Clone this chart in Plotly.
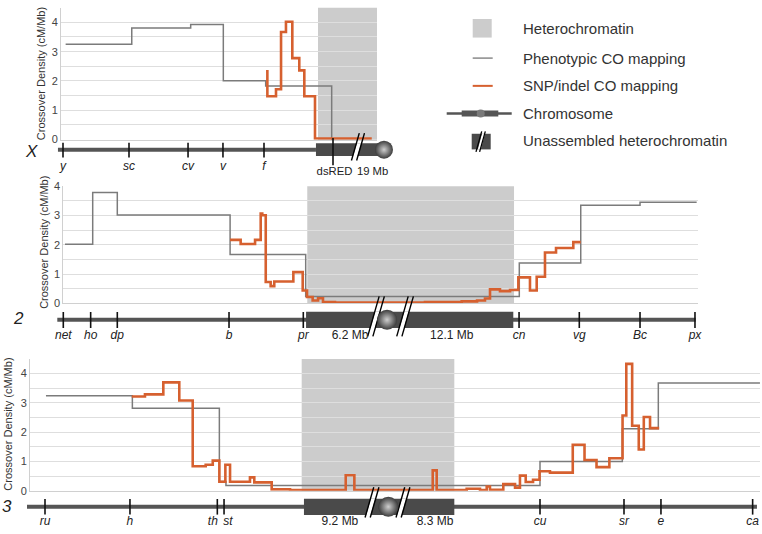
import plotly.graph_objects as go

W, H = 762, 534
PX_PER_MB = 12.0
FONT = "Liberation Sans, Arial, sans-serif"
ORANGE = "#d6602f"
GREY_LINE = "#7b7b7b"
HET = "#cccccc"
GRID = "#dedede"
DARK = "#4a4a4a"

# ---------------- data (positions in Mb, densities in cM/Mb) ----------------
# Chromosome X
x_genes = ["y", "sc", "cv", "v", "f"]
x_gene_mb = [0.0, 5.5, 10.42, 13.33, 16.75]
x_marker = ["dsRED"]
x_marker_mb = [22.5]
x_pheno_edges = [0.22, 5.73, 10.64, 13.36, 16.89, 22.39, 22.6]
x_pheno_vals = [3.25, 3.81, 3.93, 2.01, 1.83, 0.0]
x_snp_edges = [16.92, 17.03, 17.75, 18.17, 18.58, 19.11, 19.69, 20.11, 21.0, 25.73]
x_snp_vals = [2.33, 1.48, 1.72, 3.67, 4.02, 2.78, 2.36, 1.48, 0.04]
x_het = [21.25, 26.17]
x_unassembled = [21.08, 26.58]
x_span = [-0.42, 21.08]
x_centromere = 26.75
x_breaks = [24.58]
x_size_labels = ["19 Mb"]
x_size_mb = [25.8]

# Chromosome 2
c2_genes = ["net", "ho", "dp", "b", "pr", "cn", "vg", "Bc", "px"]
c2_gene_mb = [0.0, 2.28, 4.5, 13.81, 20.0, 37.98, 43.0, 48.06, 52.64]
c2_pheno_edges = [0.14, 2.45, 4.5, 13.9, 20.2, 38.0, 43.12, 48.06, 52.78]
c2_pheno_vals = [2.02, 3.78, 3.02, 1.67, 0.24, 1.38, 3.35, 3.45]
c2_snp_edges = [13.89, 14.78, 15.98, 16.45, 16.58, 16.87, 17.28, 17.58, 19.17, 19.95,
                 20.31, 20.78, 21.23, 21.64, 22.64, 30.14, 33.2, 34.48, 35.14, 35.56,
                 36.39, 37.23, 37.92, 38.89, 39.45, 40.14, 41.06, 42.5, 43.12]
c2_snp_vals = [2.17, 2.03, 2.17, 3.07, 3.01, 0.73, 0.59, 0.75, 1.07, 0.44,
               0.22, 0.10, 0.18, 0.05, 0.03, 0.05, 0.07, 0.10, 0.17, 0.48,
               0.42, 0.46, 0.89, 0.44, 0.91, 1.74, 1.89, 2.09]
c2_het = [20.33, 37.56]
c2_unassembled = [20.23, 37.5]
c2_span = [-0.5, 52.7]
c2_centromere = 26.98
c2_breaks = [26.06, 28.48]
c2_size_labels = ["6.2 Mb", "12.1 Mb"]
c2_size_mb = [23.89, 32.37]

# Chromosome 3
c3_genes = ["ru", "h", "th", "st", "cu", "sr", "e", "ca"]
c3_gene_mb = [0.0, 7.08, 14.36, 14.92, 41.25, 48.25, 51.33, 58.97]
c3_pheno_edges = [0.08, 7.28, 14.53, 15.08, 41.25, 48.11, 51.11, 59.58]
c3_pheno_vals = [3.24, 2.82, 0.32, 0.18, 1.0, 2.12, 3.68]
c3_snp_edges = [7.23, 8.33, 9.86, 11.19, 12.31, 13.39, 13.98, 14.53, 15.03, 15.42,
                 17.08, 17.44, 18.89, 20.42, 25.06, 25.78, 32.31, 32.64, 35.14, 36.25,
                 36.81, 37.08, 38.19, 39.17, 39.58, 40.06, 40.67, 41.21, 42.08, 43.98,
                 44.96, 45.96, 47.03, 48.13, 48.44, 48.93, 49.48, 49.9, 50.42, 51.18]
c3_snp_vals = [3.22, 3.29, 3.70, 3.08, 0.84, 0.89, 1.03, 0.31, 0.89, 0.31,
               0.46, 0.29, 0.05, 0.03, 0.53, 0.03, 0.70, 0.03, 0.07, 0.03,
               0.15, 0.04, 0.23, 0.11, 0.52, 0.30, 0.38, 0.67, 0.62, 1.57,
               1.05, 0.81, 1.11, 2.57, 4.33, 2.22, 1.41, 2.52, 2.14]
c3_het = [21.39, 34.11]
c3_unassembled = [21.58, 34.11]
c3_span = [-1.5, 59.33]
c3_centromere = 28.61
c3_breaks = [27.25, 29.83]
c3_size_labels = ["9.2 Mb", "8.3 Mb"]
c3_size_mb = [24.58, 32.5]

y_tick_vals = [0, 1, 2, 3, 4]
y_title = "Crossover Density (cM/Mb)"
legend_labels = ["Heterochromatin", "Phenotypic CO mapping", "SNP/indel CO mapping",
                 "Chromosome", "Unassembled heterochromatin"]

# ---------------- panel layout (pixels) ----------------
panels = [
    dict(tag="X", genes=x_genes, gene_mb=x_gene_mb, markers=x_marker, marker_mb=x_marker_mb,
         pheno=(x_pheno_edges, x_pheno_vals), snp=(x_snp_edges, x_snp_vals),
         het=x_het, unas=x_unassembled, span=x_span, cen=x_centromere, breaks=x_breaks,
         sizes=(x_size_labels, x_size_mb), label_dx={"dsRED": 1.5}, size_font=11.3,
         px0=63, plot=(61, 377, 1.7, 136.7), ymax=4.5, cy=147, rect_h=6.5, sphere=18,
         hash=(17, -11), tick=(7, -8), lab_dy=-18, size_dy=-23,
         tag_xy=(31, 149), title_xy=(41.7, 69)),
    dict(tag="2", genes=c2_genes, gene_mb=c2_gene_mb, markers=[], marker_mb=[],
         pheno=(c2_pheno_edges, c2_pheno_vals), snp=(c2_snp_edges, c2_snp_vals),
         het=c2_het, unas=c2_unassembled, span=c2_span, cen=c2_centromere, breaks=c2_breaks,
         sizes=(c2_size_labels, c2_size_mb), label_dx={}, size_font=12,
         px0=63.3, plot=(63.3, 698.3, 184.3, 304.3), ymax=4.0, cy=321, rect_h=8.3, sphere=20,
         hash=(24, -17), tick=(8, -8.5), lab_dy=-17, size_dy=-17,
         tag_xy=(18, 320), title_xy=(43.3, 242)),
    dict(tag="3", genes=c3_genes, gene_mb=c3_gene_mb, markers=[], marker_mb=[],
         pheno=(c3_pheno_edges, c3_pheno_vals), snp=(c3_snp_edges, c3_snp_vals),
         het=c3_het, unas=c3_unassembled, span=c3_span, cen=c3_centromere, breaks=c3_breaks,
         sizes=(c3_size_labels, c3_size_mb), label_dx={"th": -4.5, "st": 4}, size_font=12,
         px0=45, plot=(30, 760, 361, 496), ymax=4.5, cy=512.3, rect_h=8.3, sphere=20,
         hash=(20, -11), tick=(8, -8), lab_dy=-16, size_dy=-16,
         tag_xy=(7, 512), title_xy=(8.3, 428)),
]


def px(x):
    return x / W


def py(y):
    return 1 - y / H


fig = go.Figure()
lay = dict(width=W, height=H, margin=dict(l=0, r=0, t=0, b=0, pad=0),
           paper_bgcolor="white", plot_bgcolor="rgba(0,0,0,0)", showlegend=False,
           font=dict(family=FONT, color="#333"), hovermode=False)
shapes, annos = [], []

for i, p in enumerate(panels):
    n = i + 1
    sn = n + 3
    xid = "x" if n == 1 else f"x{n}"
    yid = "y" if n == 1 else f"y{n}"
    xkey = "xaxis" if n == 1 else f"xaxis{n}"
    ykey = "yaxis" if n == 1 else f"yaxis{n}"
    L, R, T, B = p["plot"]
    px0 = p["px0"]
    lay[xkey] = dict(domain=[px(L), px(R)],
                     range=[(L - px0) / PX_PER_MB, (R - px0) / PX_PER_MB],
                     anchor=yid, showgrid=False, zeroline=False, showticklabels=False,
                     ticks="", showline=True, linecolor="#d0d0d0", fixedrange=True)
    lay[ykey] = dict(domain=[py(B), py(T)], range=[0, p["ymax"]], anchor=xid,
                     tickvals=y_tick_vals, showgrid=True, gridcolor=GRID, gridwidth=1,
                     minor=dict(dtick=0.5, tick0=0, showgrid=True, gridcolor=GRID, gridwidth=1),
                     zeroline=False, showline=True, linecolor="#d0d0d0", linewidth=1,
                     ticks="", tickfont=dict(size=11, color="#444"), fixedrange=True)
    # heterochromatin band
    shapes.append(dict(type="rect", xref=xid, yref=f"{yid} domain", x0=p["het"][0], x1=p["het"][1],
                       y0=0, y1=1, fillcolor=HET, line=dict(width=0), layer="below"))
    # step lines
    ex, vy = p["pheno"]
    fig.add_trace(go.Scatter(x=ex, y=list(vy) + [vy[-1]], mode="lines", line_shape="hv",
                             line=dict(color=GREY_LINE, width=1.5), xaxis=xid, yaxis=yid))
    ex, vy = p["snp"]
    fig.add_trace(go.Scatter(x=ex, y=list(vy) + [vy[-1]], mode="lines", line_shape="hv",
                             line=dict(color=ORANGE, width=2.6), xaxis=xid, yaxis=yid))

    # ---------- chromosome strip ----------
    sx, sy = f"x{sn}", f"y{sn}"
    cy = p["cy"]
    top_px = cy - 32
    bot_px = min(cy + 32, H)
    lay[f"xaxis{sn}"] = dict(domain=[0, 1], range=[(0 - px0) / PX_PER_MB, (W - px0) / PX_PER_MB],
                             anchor=sy, visible=False, fixedrange=True)
    lay[f"yaxis{sn}"] = dict(domain=[py(bot_px), py(top_px)], range=[-(bot_px - cy), cy - top_px],
                             anchor=sx, visible=False, fixedrange=True)
    # chromosome line
    fig.add_trace(go.Scatter(x=[p["span"][0], p["span"][1]], y=[0, 0], mode="lines",
                             line=dict(color="#555555", width=4), xaxis=sx, yaxis=sy))
    # unassembled heterochromatin block
    a, b = p["unas"]
    h = p["rect_h"]
    fig.add_trace(go.Scatter(x=[a, b, b, a, a], y=[-h, -h, h, h, -h], mode="lines", fill="toself",
                             fillcolor=DARK, line=dict(width=0, color=DARK), xaxis=sx, yaxis=sy))
    # gene ticks
    tx, ty = [], []
    t_up, t_dn = p["tick"]
    for g in p["gene_mb"]:
        tx += [g, g, None]
        ty += [t_dn, t_up, None]
    for g in p["marker_mb"]:
        tx += [g, g, None]
        ty += [-16, 12, None]
    fig.add_trace(go.Scatter(x=tx, y=ty, mode="lines", line=dict(color="#111111", width=1.6),
                             xaxis=sx, yaxis=sy))
    # breaks (//)
    top, bot = p["hash"]
    mid = (top + bot) / 2
    for c in p["breaks"]:
        def xat(o, y, c=c):
            return c + (o + 0.28 * (y - mid)) / PX_PER_MB
        fig.add_trace(go.Scatter(x=[xat(-2.2, -h), xat(2.2, -h), xat(2.2, h), xat(-2.2, h), xat(-2.2, -h)],
                                 y=[-h, -h, h, h, -h], mode="lines", fill="toself", fillcolor="white",
                                 line=dict(width=0, color="white"), xaxis=sx, yaxis=sy))
        hx, hy = [], []
        for o in (-2.6, 2.6):
            hx += [xat(o, bot), xat(o, top), None]
            hy += [bot, top, None]
        fig.add_trace(go.Scatter(x=hx, y=hy, mode="lines", line=dict(color="black", width=1.4),
                                 xaxis=sx, yaxis=sy))
    # centromere sphere
    fig.add_trace(go.Scatter(x=[p["cen"]], y=[0], mode="markers", cliponaxis=False,
                             marker=dict(size=p["sphere"], color="#3c3c3c",
                                         gradient=dict(type="radial", color="#cfcfcf"),
                                         line=dict(width=0)),
                             xaxis=sx, yaxis=sy))
    # gene labels
    dx = p["label_dx"]
    gx = [m + dx.get(g, 0) / PX_PER_MB for g, m in zip(p["genes"], p["gene_mb"])]
    fig.add_trace(go.Scatter(x=gx, y=[p["lab_dy"]] * len(gx), mode="text",
                             text=[f"<i>{g}</i>" for g in p["genes"]], cliponaxis=False,
                             textfont=dict(size=12, color="#222", family=FONT),
                             xaxis=sx, yaxis=sy))
    lbl = list(p["markers"]) + list(p["sizes"][0])
    lx = [m + dx.get(g, 0) / PX_PER_MB for g, m in zip(p["markers"], p["marker_mb"])] + list(p["sizes"][1])
    fig.add_trace(go.Scatter(x=lx, y=[p["size_dy"]] * len(lx), mode="text", text=lbl,
                             cliponaxis=False, textfont=dict(size=p["size_font"], color="#222", family=FONT),
                             xaxis=sx, yaxis=sy))
    # panel tag and y title
    annos.append(dict(xref="paper", yref="paper", x=px(p["tag_xy"][0]), y=py(p["tag_xy"][1]),
                      text=f"<i>{p['tag']}</i>", showarrow=False, xanchor="center", yanchor="middle",
                      font=dict(size=17, color="#222", family=FONT)))
    annos.append(dict(xref="paper", yref="paper", x=px(p["title_xy"][0]), y=py(p["title_xy"][1]),
                      text=y_title, textangle=-90, showarrow=False, xanchor="center", yanchor="middle",
                      font=dict(size=11, color="#333", family=FONT)))

# ---------------- legend ----------------
def prect(x0, y0, x1, y1, color):
    return dict(type="rect", xref="paper", yref="paper", x0=px(x0), x1=px(x1), y0=py(y1), y1=py(y0),
                fillcolor=color, line=dict(width=0), layer="above")


def pline(x0, y0, x1, y1, color, w):
    return dict(type="line", xref="paper", yref="paper", x0=px(x0), x1=px(x1), y0=py(y0), y1=py(y1),
                line=dict(color=color, width=w), layer="above")


leg_y = [23.3, 53.3, 81.7, 110, 138]
shapes.append(prect(472.7, 13.3, 491.7, 32.3, HET))
shapes.append(pline(472.7, 53.3, 492.7, 53.3, "#8a8a8a", 1.5))
shapes.append(pline(472.7, 81.7, 492.7, 81.7, ORANGE, 2))
shapes.append(pline(446.7, 110, 511.7, 110, "#555555", 2.5))
shapes.append(prect(461.7, 107, 498.3, 113, "#555555"))
shapes.append(dict(type="circle", xref="paper", yref="paper", x0=px(476.7), x1=px(484.7),
                   y0=py(114), y1=py(106), fillcolor="#7a7a7a", line=dict(width=0), layer="above"))
shapes.append(prect(471.7, 130.7, 490.7, 146.7, DARK))
# white gap + two slashes
gap = "M {} {} L {} {} L {} {} L {} {} Z".format(px(477.8), py(146.7), px(480.8), py(146.7),
                                                  px(485.0), py(130.7), px(482.0), py(130.7))
shapes.append(dict(type="path", xref="paper", yref="paper", path=gap, fillcolor="white",
                   line=dict(width=0), layer="above"))
shapes.append(pline(476.0, 149.3, 481.7, 128.3, "black", 1.3))
shapes.append(pline(479.6, 149.3, 485.3, 128.3, "black", 1.3))
for t, yv in zip(legend_labels, leg_y):
    annos.append(dict(xref="paper", yref="paper", x=px(520.7), y=py(yv), text=t, showarrow=False,
                      xanchor="left", yanchor="middle", font=dict(size=15, color="#333", family=FONT)))

for tr in fig.data:
    tr.hoverinfo = "skip"

lay["shapes"] = shapes
lay["annotations"] = annos
fig.update_layout(**lay)

fig.write_html("out.html", config={"displayModeBar": False, "staticPlot": True},
               post_script="document.body.style.margin='0';document.body.style.overflow='hidden';")
